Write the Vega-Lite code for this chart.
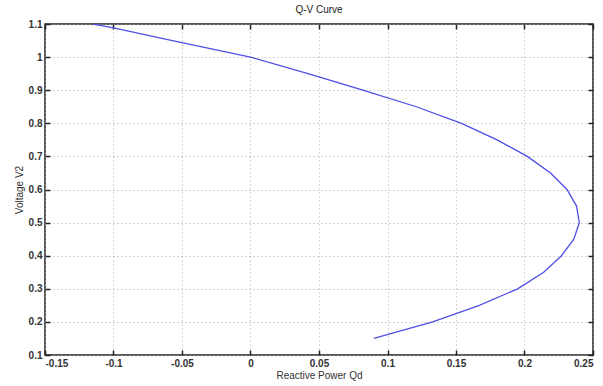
{
  "$schema": "https://vega.github.io/schema/vega-lite/v6.json",
  "width": 548,
  "height": 331,
  "autosize": {"type": "none"},
  "padding": {"left": 45, "top": 24, "right": 10, "bottom": 31},
  "background": "white",
  "title": {"text": "Q-V Curve", "fontSize": 10, "font": "Liberation Sans", "fontWeight": "normal", "offset": 4, "color": "#222"},
  "config": {
    "view": {"stroke": "#222", "strokeWidth": 1.5},
    "axis": {
      "labelFont": "Liberation Sans", "labelFontSize": 10, "labelFontWeight": "bold", "labelColor": "#333",
      "titleFont": "Liberation Sans", "titleFontSize": 10, "titleFontWeight": "normal", "titleColor": "#333",
      "domain": false, "tickColor": "#222", "tickWidth": 1.5,
      "gridColor": "#aaa", "gridDash": [1, 3], "gridWidth": 1
    }
  },
  "data": {"values": [
    {"V": 1.1, "Q": -0.115},
    {"V": 1.088, "Q": -0.1},
    {"V": 1.05, "Q": -0.057},
    {"V": 1.0, "Q": 0.0},
    {"V": 0.95, "Q": 0.042},
    {"V": 0.9, "Q": 0.082},
    {"V": 0.85, "Q": 0.121},
    {"V": 0.8, "Q": 0.154},
    {"V": 0.75, "Q": 0.180},
    {"V": 0.7, "Q": 0.202},
    {"V": 0.65, "Q": 0.219},
    {"V": 0.6, "Q": 0.231},
    {"V": 0.55, "Q": 0.238},
    {"V": 0.5, "Q": 0.240},
    {"V": 0.45, "Q": 0.236},
    {"V": 0.4, "Q": 0.227},
    {"V": 0.35, "Q": 0.214},
    {"V": 0.3, "Q": 0.195},
    {"V": 0.25, "Q": 0.167},
    {"V": 0.2, "Q": 0.133},
    {"V": 0.15, "Q": 0.090}
  ]},
  "layer": [
    {
      "mark": {"type": "line", "color": "#4f4fe6", "strokeWidth": 1.3, "clip": true},
      "encoding": {
        "x": {"field": "Q", "type": "quantitative", "scale": {"domain": [-0.15, 0.25], "nice": false, "zero": false},
              "axis": {"values": [-0.15, -0.1, -0.05, 0, 0.05, 0.1, 0.15, 0.2, 0.25], "labelExpr": "replace(format(datum.value, '~g'), '\u2212', '-')", "title": "Reactive Power Qd", "tickSize": -5, "labelPadding": 8, "titlePadding": 2}},
        "y": {"field": "V", "type": "quantitative", "scale": {"domain": [0.1, 1.1], "nice": false, "zero": false},
              "axis": {"values": [0.1, 0.2, 0.3, 0.4, 0.5, 0.6, 0.7, 0.8, 0.9, 1, 1.1], "labelExpr": "format(datum.value, '~g')", "title": "Voltage V2", "tickSize": -5, "labelPadding": 8, "titlePadding": 4}},
        "order": {"field": "V", "type": "quantitative"}
      }
    },
    {
      "mark": {"type": "point", "opacity": 0},
      "encoding": {
        "x": {"field": "Q", "type": "quantitative", "scale": {"domain": [-0.15, 0.25], "nice": false, "zero": false},
              "axis": {"orient": "top", "values": [-0.15, -0.1, -0.05, 0, 0.05, 0.1, 0.15, 0.2, 0.25], "labels": false, "title": null, "grid": false, "tickSize": -5}},
        "y": {"field": "V", "type": "quantitative", "scale": {"domain": [0.1, 1.1], "nice": false, "zero": false},
              "axis": {"orient": "right", "values": [0.1, 0.2, 0.3, 0.4, 0.5, 0.6, 0.7, 0.8, 0.9, 1, 1.1], "labels": false, "title": null, "grid": false, "tickSize": -5}}
      }
    }
  ],
  "resolve": {"axis": {"x": "independent", "y": "independent"}}
}
